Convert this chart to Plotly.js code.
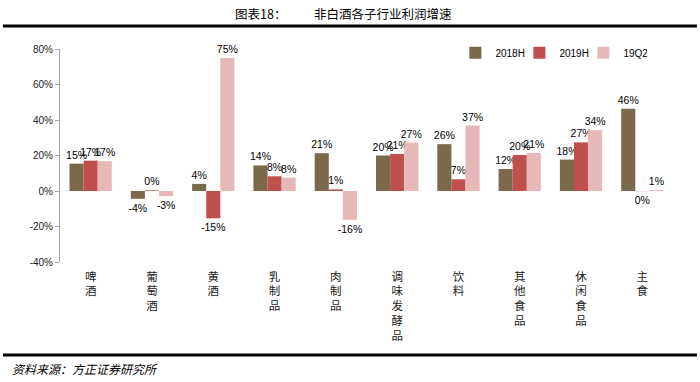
<!DOCTYPE html>
<html>
<head>
<meta charset="utf-8">
<script src="https://cdn.plot.ly/plotly-3.0.1.min.js"></script>
<style>
html,body{margin:0;padding:0;background:#fff;}
#chart{width:700px;height:382px;}
</style>
</head>
<body>
<div id="chart"></div>
<script>
// ---- data ----
const categories = ["啤酒", "葡萄酒", "黄酒", "乳制品", "肉制品", "调味发酵品", "饮料", "其他食品", "休闲食品", "主食"];
const seriesNames = ["2018H", "2019H", "19Q2"];
const v2018H = [15.4, -4.4, 4.0, 14.4, 21.3, 20.0, 26.4, 12.4, 17.7, 46.4];
const v2019H = [17.1, 0.4, -15.4, 8.3, 0.9, 20.9, 6.6, 20.3, 27.4, -0.1];
const v19Q2  = [16.8, -2.9, 74.9, 7.5, -16.2, 27.3, 36.9, 21.4, 34.3, 0.6];
const yTicks = [-40, -20, 0, 20, 40, 60, 80];
const titleLabel = "图表18：";
const titleText = "非白酒各子行业利润增速";
const sourceText = "资料来源：方正证券研究所";

const colors = ["#7A694B", "#C0504D", "#E6B9B8"];
const allValues = [v2018H, v2019H, v19Q2];
const numFont = "Liberation Sans, Arial, sans-serif";
const cjkFont = "Noto Sans CJK SC, sans-serif";

const traces = allValues.map((vals, k) => ({
  type: "bar",
  name: seriesNames[k],
  x: categories,
  y: vals,
  marker: {color: colors[k], line: {width: 0}},
  text: vals.map(v => Math.round(v) + "%"),
  textposition: "outside",
  textfont: {family: numFont, size: 10.5, color: "#000"},
  constraintext: "none",
  cliponaxis: false,
  hoverinfo: "skip"
}));

const vertLabels = categories.map(c => c.split("").join("<br>"));
const yMin = yTicks[0], yMax = yTicks[yTicks.length - 1];

const layout = {
  width: 700, height: 382,
  margin: {l: 60, r: 27, t: 49, b: 120},
  paper_bgcolor: "#fff", plot_bgcolor: "#fff",
  barmode: "group",
  bargap: 0.31,
  bargroupgap: 0,
  showlegend: true,
  legend: {
    orientation: "h", x: 0.645, xanchor: "left", y: 0.982, yanchor: "middle",
    font: {family: numFont, size: 10, color: "#000"},
    entrywidth: 19, entrywidthmode: "pixels",
    bgcolor: "rgba(0,0,0,0)", borderwidth: 0
  },
  xaxis: {
    type: "category",
    tickmode: "array",
    tickvals: categories,
    ticktext: vertLabels,
    ticks: "",
    ticklabelstandoff: 6,
    showline: false,
    showgrid: false,
    zeroline: false,
    tickfont: {family: cjkFont, size: 11.5, color: "#222"},
    tickangle: 0,
    fixedrange: true
  },
  xaxis2: {
    type: "linear",
    overlaying: "x",
    anchor: "free",
    position: (0 - yMin) / (yMax - yMin),
    side: "bottom",
    range: [-0.5, categories.length - 0.5],
    tickmode: "array",
    tickvals: categories.map((c, i) => i + 0.5),
    showticklabels: false,
    ticks: "outside",
    ticklen: 5,
    tickcolor: "#A6A6A6",
    showline: true,
    linecolor: "#A6A6A6",
    linewidth: 1,
    showgrid: false,
    zeroline: false
  },
  yaxis: {
    range: [yMin, yMax],
    tickmode: "array",
    tickvals: yTicks,
    ticktext: yTicks.map(t => t + "%"),
    ticks: "outside",
    ticklen: 4,
    tickcolor: "#A6A6A6",
    showline: true,
    linecolor: "#A6A6A6",
    linewidth: 1,
    showgrid: false,
    zeroline: false,
    tickfont: {family: numFont, size: 10, color: "#222"},
    fixedrange: true
  },
  shapes: [
    {type: "line", xref: "paper", yref: "paper", x0: -0.093, x1: 1.039, y0: 1.108, y1: 1.108,
     line: {color: "#000", width: 3}},
    {type: "line", xref: "paper", yref: "paper", x0: -0.093, x1: 1.039, y0: -0.437, y1: -0.437,
     line: {color: "#000", width: 3}}
  ],
  annotations: [
    {xref: "paper", yref: "paper", x: (233 - 60) / 613, y: 1.166, xanchor: "left", yanchor: "middle",
     text: titleLabel, showarrow: false, font: {family: cjkFont, size: 12.5, color: "#000"}},
    {xref: "paper", yref: "paper", x: (312 - 60) / 613, y: 1.166, xanchor: "left", yanchor: "middle",
     text: titleText, showarrow: false, font: {family: cjkFont, size: 12.5, color: "#000"}},
    {xref: "paper", yref: "paper", x: (10 - 60) / 613, y: -0.498, xanchor: "left", yanchor: "middle",
     text: sourceText, showarrow: false, font: {family: cjkFont, size: 12, color: "#000", style: "italic"}}
  ]
};

Plotly.newPlot("chart", traces, layout, {displayModeBar: false, staticPlot: true});
</script>
</body>
</html>
